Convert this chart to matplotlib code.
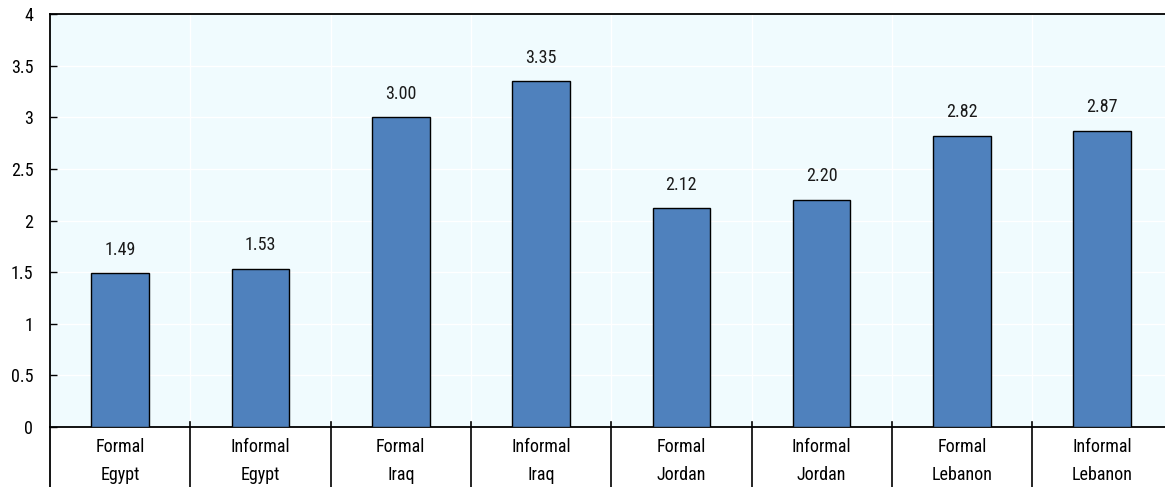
import matplotlib
matplotlib.use("Agg")
import matplotlib.pyplot as plt
import matplotlib.transforms as mtransforms
from matplotlib import font_manager

sectors = ["Formal", "Informal", "Formal", "Informal", "Formal", "Informal", "Formal", "Informal"]
countries = ["Egypt", "Egypt", "Iraq", "Iraq", "Jordan", "Jordan", "Lebanon", "Lebanon"]
values = [1.49, 1.53, 3.00, 3.35, 2.12, 2.20, 2.82, 2.87]
yticks = [0, 0.5, 1, 1.5, 2, 2.5, 3, 3.5, 4]
ytick_labels = ["0", "0.5", "1", "1.5", "2", "2.5", "3", "3.5", "4"]

avail = {f.name for f in font_manager.fontManager.ttflist}
prefs = ["Liberation Sans Narrow", "Arial Narrow", "Roboto Condensed", "Liberation Sans"]
fam = [f for f in prefs if f in avail][:1] + ["DejaVu Sans"]
plt.rcParams["font.family"] = fam
FS = 13

W, H = 1165, 487
fig = plt.figure(figsize=(W / 100, H / 100), dpi=100)
left, right_px, top, bottom = 50, 1172.4, 14, 427
ax = fig.add_axes([left / W, (H - bottom) / H, (right_px - left) / W, (bottom - top) / H])
ax.set_facecolor("#f0fbfe")

n = len(values)
x = [i + 0.5 for i in range(n)]
ax.bar(x, values, width=0.41, color="#4f81bd", edgecolor="black", linewidth=1.0, zorder=3)

for xi, v in zip(x, values):
    ax.annotate(f"{v:.2f}", (xi, v), xytext=(0, 10.5), textcoords="offset points",
                ha="center", va="bottom", fontsize=FS, color="#1a1a1a")

ax.set_xlim(0, n)
ax.set_ylim(0, 4)
ax.set_yticks(yticks)
ax.set_yticklabels(ytick_labels, fontsize=FS)
ax.tick_params(axis="y", direction="in", length=5, width=1, pad=12, colors="black")
ax.set_xticks([])

for yv in yticks[1:-1]:
    ax.axhline(yv, color="white", lw=1.0, zorder=1)
for i in range(1, n):
    ax.axvline(i, color="white", lw=1.0, zorder=1)

for s in ["left", "top", "bottom"]:
    ax.spines[s].set_color("black")
    ax.spines[s].set_linewidth(1.3)
ax.spines["right"].set_visible(False)

trans = mtransforms.blended_transform_factory(ax.transData, ax.transAxes)
ah = bottom - top
for i in range(1, n):
    ax.plot([i, i], [5 / ah, -60 / ah], color="black", lw=1.2, transform=trans, clip_on=False, zorder=4)
ax.plot([0, 0], [0, -60 / ah], color="black", lw=1.3, transform=trans, clip_on=False)

for xi, s, c in zip(x, sectors, countries):
    ax.text(xi, -20 / ah, s, transform=trans, ha="center", va="center", fontsize=FS)
    ax.text(xi, -48 / ah, c, transform=trans, ha="center", va="center", fontsize=FS)

fig.savefig("out.png", dpi=100)
